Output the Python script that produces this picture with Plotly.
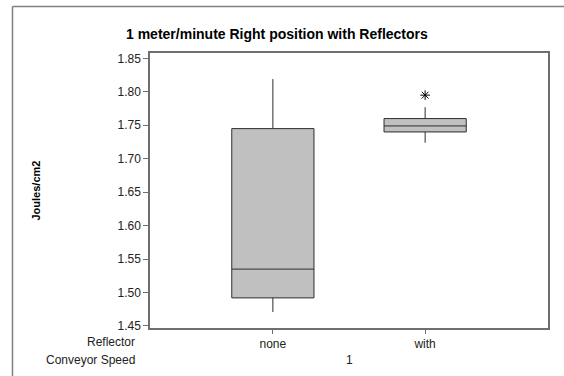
import plotly.graph_objects as go

categories = ["none", "with"]
q1 = [1.492, 1.740]
median = [1.535, 1.749]
q3 = [1.745, 1.760]
lower_whisker = [1.471, 1.724]
upper_whisker = [1.819, 1.777]
outlier_cat = ["with"]
outlier_val = [1.795]
y_ticks = [1.45, 1.50, 1.55, 1.60, 1.65, 1.70, 1.75, 1.80, 1.85]

W, H = 564, 376
L, R, T, B = 150, 16, 53, 48
pw, ph = W - L - R, H - T - B

def px(x):
    return (x - L) / pw

def py(y):
    return (H - B - y) / ph

FONT = "Liberation Sans, Arial, sans-serif"
AX = "#6e6e6e"

fig = go.Figure()
fig.add_trace(go.Box(
    x=categories, q1=q1, median=median, q3=q3,
    lowerfence=lower_whisker, upperfence=upper_whisker,
    boxpoints=False, width=0.54, whiskerwidth=0,
    fillcolor="#c0c0c0", line=dict(color="#2e2e2e", width=1),
    showlegend=False, hoverinfo="skip",
))
fig.add_trace(go.Scatter(
    x=outlier_cat, y=outlier_val, mode="markers",
    marker=dict(symbol="asterisk-open", size=8, color="black",
                line=dict(color="black", width=1)),
    showlegend=False, hoverinfo="skip",
))

frame = dict(color="#808080", width=1.5)
fig.update_layout(
    width=W, height=H,
    margin=dict(l=L, r=R, t=T, b=B),
    paper_bgcolor="white", plot_bgcolor="white",
    font=dict(family=FONT, size=12, color="#222"),
    xaxis=dict(type="category", range=[-0.807, 1.807], showgrid=False,
               showline=True, linecolor=AX, linewidth=1.5, mirror=True,
               ticks="outside", ticklen=4, tickcolor=AX,
               tickfont=dict(size=12, color="#222"), zeroline=False),
    yaxis=dict(range=[1.447, 1.858], tickvals=y_ticks, tickformat=".2f",
               showgrid=False, showline=True, linecolor=AX, linewidth=1.5,
               mirror=True, ticks="outside", ticklen=5, tickcolor=AX,
               tickfont=dict(size=12, color="#222"), zeroline=False),
    shapes=[
        dict(type="line", xref="paper", yref="paper",
             x0=px(12.5), x1=px(564), y0=py(6.5), y1=py(6.5), line=frame),
        dict(type="line", xref="paper", yref="paper",
             x0=px(12.5), x1=px(12.5), y0=py(6.5), y1=py(376), line=frame),
    ],
    annotations=[
        dict(text="<b>1 meter/minute Right position with Reflectors</b>",
             xref="paper", yref="paper", x=px(277), y=py(34),
             xanchor="center", yanchor="middle", showarrow=False,
             font=dict(size=14, color="black", family=FONT)),
        dict(text="<b>Joules/cm2</b>", textangle=-90,
             xref="paper", yref="paper", x=px(35), y=0.5,
             xanchor="center", yanchor="middle", showarrow=False,
             font=dict(size=11, color="black", family=FONT)),
        dict(text="Reflector", xref="paper", yref="paper",
             x=px(137), y=py(342), xanchor="right", yanchor="middle",
             showarrow=False, font=dict(size=12, color="#222")),
        dict(text="Conveyor Speed", xref="paper", yref="paper",
             x=px(137), y=py(360), xanchor="right", yanchor="middle",
             showarrow=False, font=dict(size=12, color="#222")),
        dict(text="1", xref="paper", yref="paper",
             x=px(349), y=py(360), xanchor="center", yanchor="middle",
             showarrow=False, font=dict(size=12, color="#222")),
    ],
)

fig.write_html("out.html")
